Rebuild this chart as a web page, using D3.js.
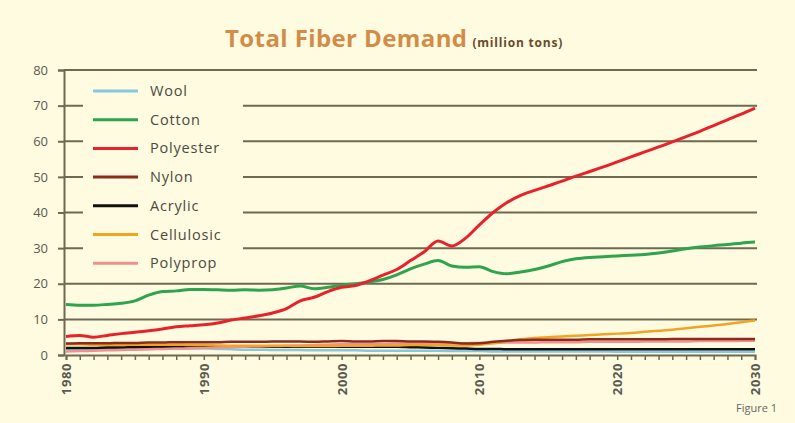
<!DOCTYPE html>
<html>
<head>
<meta charset="utf-8">
<script src="https://cdn.jsdelivr.net/npm/d3@7"></script>
<style>
  body { margin: 0; background: #fffbe0; }
  svg { display: block; }
  text { font-family: "Open Sans", "DejaVu Sans", sans-serif; }
</style>
</head>
<body>
<svg id="chart" width="795" height="423"></svg>
<script>
// years 1980..2030, one value per year (million tons)
var years = d3.range(1980, 2031);

var wool = [1.6, 1.6, 1.6, 1.6, 1.7, 1.7, 1.7, 1.8, 1.8, 1.8, 1.8, 1.7, 1.6, 1.5, 1.5, 1.4, 1.4, 1.4, 1.3, 1.3,
            1.3, 1.3, 1.2, 1.2, 1.2, 1.2, 1.2, 1.2, 1.1, 1.1, 1.1, 1.0, 1.0, 1.0, 1.0, 1.0, 1.0, 1.0, 1.0, 1.0,
            0.9, 0.9, 0.9, 0.9, 0.9, 0.9, 0.9, 0.9, 0.9, 0.9, 0.9];
var cotton = [14.2, 14.0, 14.0, 14.2, 14.5, 15.2, 16.8, 17.8, 18.0, 18.4, 18.4, 18.3, 18.2, 18.3, 18.2, 18.3, 18.8, 19.4, 18.6, 19.0,
              19.6, 20.0, 20.5, 21.2, 22.5, 24.2, 25.5, 26.5, 25.0, 24.6, 24.8, 23.4, 22.8, 23.3, 24.0, 25.0, 26.2, 27.0, 27.4, 27.6,
              27.8, 28.0, 28.2, 28.6, 29.2, 29.8, 30.3, 30.7, 31.0, 31.4, 31.7];
var polyester = [5.2, 5.5, 5.0, 5.5, 6.0, 6.4, 6.8, 7.3, 7.9, 8.2, 8.5, 9.0, 9.8, 10.4, 11.0, 11.8, 13.0, 15.2, 16.2, 17.8,
                 19.0, 19.5, 20.8, 22.4, 24.0, 26.5, 29.0, 32.0, 30.6, 32.8, 36.5, 40.0, 42.8, 44.8, 46.2, 47.5, 48.8, 50.2, 51.5, 52.8,
                 54.2, 55.6, 57.0, 58.4, 59.8, 61.3, 62.8, 64.4, 66.0, 67.6, 69.3];
var nylon = [3.2, 3.3, 3.3, 3.3, 3.4, 3.4, 3.5, 3.5, 3.6, 3.6, 3.6, 3.6, 3.7, 3.7, 3.7, 3.8, 3.8, 3.8, 3.7, 3.8,
             3.9, 3.8, 3.8, 3.9, 3.9, 3.8, 3.8, 3.7, 3.5, 3.2, 3.3, 3.7, 4.0, 4.2, 4.3, 4.3, 4.3, 4.3, 4.4, 4.4,
             4.4, 4.4, 4.4, 4.4, 4.5, 4.5, 4.5, 4.5, 4.5, 4.5, 4.5];
var acrylic = [2.0, 2.0, 2.0, 2.1, 2.1, 2.2, 2.2, 2.2, 2.3, 2.3, 2.3, 2.3, 2.3, 2.3, 2.3, 2.3, 2.3, 2.3, 2.3, 2.3,
               2.3, 2.3, 2.3, 2.3, 2.3, 2.2, 2.1, 2.0, 1.9, 1.8, 1.7, 1.7, 1.6, 1.6, 1.6, 1.6, 1.6, 1.6, 1.6, 1.6,
               1.6, 1.6, 1.6, 1.6, 1.6, 1.6, 1.6, 1.6, 1.6, 1.6, 1.6];
var cellulosic = [3.0, 3.0, 2.9, 2.9, 2.9, 2.9, 2.9, 2.9, 2.9, 2.8, 2.8, 2.7, 2.6, 2.6, 2.6, 2.6, 2.6, 2.5, 2.5, 2.5,
                  2.6, 2.6, 2.6, 2.7, 2.7, 2.8, 2.8, 2.8, 2.7, 2.7, 2.9, 3.3, 3.9, 4.4, 4.8, 5.0, 5.2, 5.4, 5.6, 5.8,
                  6.0, 6.2, 6.5, 6.8, 7.1, 7.5, 7.9, 8.3, 8.7, 9.2, 9.7];
var polyprop = [1.0, 1.1, 1.2, 1.3, 1.4, 1.5, 1.6, 1.7, 1.8, 1.9, 2.0, 2.1, 2.2, 2.3, 2.4, 2.5, 2.6, 2.7, 2.8, 2.9,
                3.0, 3.0, 3.1, 3.1, 3.2, 3.2, 3.3, 3.3, 3.3, 3.3, 3.4, 3.4, 3.5, 3.5, 3.5, 3.6, 3.6, 3.6, 3.7, 3.7,
                3.7, 3.7, 3.8, 3.8, 3.8, 3.8, 3.9, 3.9, 3.9, 4.0, 4.0];

var seriesNames = ["Wool", "Cotton", "Polyester", "Nylon", "Acrylic", "Cellulosic", "Polyprop"];
var seriesValues = [wool, cotton, polyester, nylon, acrylic, cellulosic, polyprop];
var seriesColors = ["#86c8e0", "#2da44e", "#e8222b", "#8c2a1e", "#111111", "#f0a422", "#f29090"];
// draw order: small ones underneath
var drawOrder = [0, 4, 6, 5, 3, 1, 2];

var yTicks = [0, 10, 20, 30, 40, 50, 60, 70, 80];
var xTickLabels = [1980, 1990, 2000, 2010, 2020, 2030];

var svg = d3.select("#chart");
var x = d3.scaleLinear().domain([1980, 2030]).range([66, 755]);
var y = d3.scaleLinear().domain([0, 80]).range([355, 70]);

svg.append("rect").attr("width", 795).attr("height", 423).attr("fill", "#fffbe0");

// title
var title = svg.append("text")
    .attr("x", 225).attr("y", 47);
title.append("tspan")
    .attr("font-size", 24).attr("font-weight", "bold").attr("fill", "#d28c48")
    .attr("letter-spacing", 0.4)
    .text("Total Fiber Demand");
title.append("tspan")
    .attr("dx", 5)
    .attr("font-size", 12).attr("font-weight", "bold").attr("fill", "#6a4a2a")
    .attr("letter-spacing", 0.8)
    .text("(million tons)");

// gridlines
svg.append("g").selectAll("line")
    .data(yTicks.filter(function(d) { return d > 0; }))
    .enter().append("line")
    .attr("x1", 64).attr("x2", 757)
    .attr("y1", function(d) { return y(d); })
    .attr("y2", function(d) { return y(d); })
    .attr("stroke", "#6e6a52").attr("stroke-width", 2);

// y axis
var yAxis = svg.append("g")
    .attr("transform", "translate(64,0)")
    .call(d3.axisLeft(y).tickValues(yTicks).tickSize(6).tickPadding(10));
yAxis.select(".domain").attr("stroke", "#6e6a52").attr("stroke-width", 2);
yAxis.selectAll(".tick line").attr("stroke", "#6e6a52").attr("stroke-width", 2);
yAxis.selectAll("text").attr("font-size", 13).attr("fill", "#5a5a50")
    .attr("font-family", "Lato, sans-serif");

// x axis
var xAxis = svg.append("g")
    .attr("transform", "translate(0,355)")
    .call(d3.axisBottom(x).tickValues(years).tickSize(5).tickFormat(""));
xAxis.select(".domain").attr("stroke", "#6e6a52").attr("stroke-width", 2);
xAxis.selectAll(".tick line").attr("stroke", "#6e6a52").attr("stroke-width", 1.5);

svg.append("g").selectAll("text")
    .data(xTickLabels)
    .enter().append("text")
    .attr("transform", function(d) { return "translate(" + (x(d) + 5) + ",363) rotate(-90)"; })
    .attr("text-anchor", "end")
    .attr("font-size", 13)
    .attr("font-weight", "bold")
    .attr("letter-spacing", 0.6)
    .attr("font-family", "Lato, sans-serif")
    .attr("fill", "#5a5a50")
    .text(function(d) { return d; });

// legend background box hides gridlines behind it
svg.append("rect")
    .attr("x", 83).attr("y", 78).attr("width", 160).attr("height", 196)
    .attr("fill", "#fffbe0");

// lines
var line = d3.line()
    .x(function(d, i) { return x(years[i]); })
    .y(function(d) { return y(d); })
    .curve(d3.curveMonotoneX);

svg.append("g").selectAll("path")
    .data(drawOrder)
    .enter().append("path")
    .attr("d", function(k) { return line(seriesValues[k]); })
    .attr("fill", "none")
    .attr("stroke", function(k) { return seriesColors[k]; })
    .attr("stroke-width", function(k) { return (k == 1 || k == 2) ? 3 : 2.5; })
    .attr("stroke-linejoin", "round");

// legend
var legend = svg.append("g").selectAll("g")
    .data(seriesNames)
    .enter().append("g")
    .attr("transform", function(d, i) { return "translate(0," + (91 + i * 28.7) + ")"; });
legend.append("line")
    .attr("x1", 93).attr("x2", 138)
    .attr("stroke", function(d, i) { return seriesColors[i]; })
    .attr("stroke-width", 3);
legend.append("text")
    .attr("x", 150).attr("y", 5)
    .attr("font-size", 14.5)
    .attr("letter-spacing", 0.8)
    .attr("font-family", "Lato, sans-serif")
    .attr("fill", "#4a4a40")
    .text(function(d) { return d; });

svg.append("text")
    .attr("x", 736).attr("y", 412)
    .attr("font-size", 11)
    .attr("font-family", "Lato, sans-serif")
    .attr("fill", "#666")
    .text("Figure 1");
</script>
</body>
</html>
